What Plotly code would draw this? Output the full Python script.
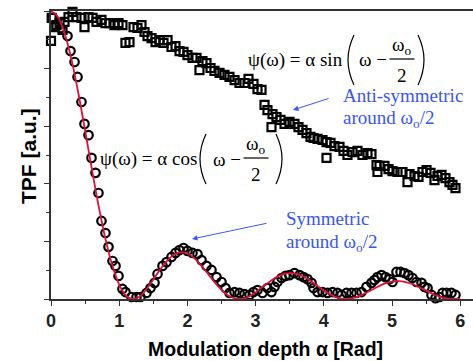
import plotly.graph_objects as go

# ---------------- data ----------------
sym_alpha = [0.022, 0.095, 0.139, 0.242, 0.286, 0.345, 0.389, 0.447, 0.491, 0.550, 0.594, 0.652, 0.696,
             0.740, 0.799, 0.843, 0.902, 0.946, 0.990, 1.048, 1.092, 1.180, 1.254, 1.312, 1.400, 1.459,
             1.518, 1.562, 1.635, 1.694, 1.767, 1.826, 1.884, 1.943, 2.001, 2.075, 2.148, 2.207, 2.280,
             2.353, 2.427, 2.500, 2.559, 2.617, 2.691, 2.764, 2.837, 2.911, 2.969, 3.028, 3.101, 3.174,
             3.233, 3.277, 3.321, 3.380, 3.438, 3.497, 3.570, 3.644, 3.703, 3.761, 3.820, 3.849, 3.908,
             3.981, 4.054, 4.128, 4.201, 4.260, 4.333, 4.406, 4.479, 4.553, 4.626, 4.699, 4.743, 4.787,
             4.846, 4.905, 4.963, 5.007, 5.066, 5.125, 5.183, 5.242, 5.301, 5.359, 5.433, 5.477, 5.521,
             5.579, 5.638, 5.697, 5.741, 5.799, 5.872, 5.931]
sym_tpf = [0.976, 1.003, 0.941, 0.913, 0.861, 0.823, 0.771, 0.684, 0.608, 0.569, 0.490, 0.438, 0.368,
           0.271, 0.229, 0.181, 0.132, 0.115, 0.080, 0.035, 0.024, 0.007, 0.007, 0.007, 0.021, 0.038,
           0.056, 0.087, 0.115, 0.128, 0.146, 0.160, 0.170, 0.177, 0.167, 0.160, 0.156, 0.135, 0.115,
           0.101, 0.076, 0.059, 0.038, 0.021, 0.024, 0.021, 0.017, 0.014, 0.024, 0.031, 0.021, 0.038,
           0.024, 0.042, 0.059, 0.073, 0.080, 0.083, 0.090, 0.083, 0.076, 0.069, 0.056, 0.038, 0.024,
           0.024, 0.021, 0.024, 0.021, 0.014, 0.021, 0.021, 0.021, 0.024, 0.042, 0.056, 0.066, 0.076,
           0.083, 0.076, 0.069, 0.059, 0.094, 0.094, 0.090, 0.083, 0.073, 0.059, 0.056, 0.042, 0.038,
           0.014, 0.003, 0.007, 0.021, 0.021, 0.021, 0.014]

anti_alpha = [0.000, 0.010, 0.051, 0.081, 0.125, 0.169, 0.198, 0.257, 0.315, 0.374, 0.447, 0.491, 0.550,
              0.609, 0.667, 0.740, 0.799, 0.858, 0.931, 0.990, 1.048, 1.092, 1.151, 1.210, 1.268, 1.327,
              1.371, 1.415, 1.474, 1.533, 1.591, 1.650, 1.709, 1.767, 1.826, 1.884, 1.943, 2.001, 2.075,
              2.133, 2.177, 2.221, 2.280, 2.339, 2.397, 2.471, 2.544, 2.617, 2.691, 2.764, 2.837, 2.896,
              2.969, 3.028, 3.087, 3.131, 3.174, 3.248, 3.306, 3.233, 3.365, 3.424, 3.497, 3.570, 3.629,
              3.688, 3.746, 3.805, 3.849, 3.908, 3.981, 4.040, 4.098, 4.157, 4.230, 4.289, 4.347, 4.040,
              4.421, 4.494, 4.567, 4.641, 4.699, 4.773, 4.817, 4.787, 4.890, 4.949, 5.007, 5.081, 5.154,
              5.227, 5.257, 5.330, 5.389, 5.447, 5.506, 5.565, 5.623, 5.667, 5.726, 5.784, 5.843, 5.887,
              5.931]
anti_tpf = [0.896, 0.976, 0.944, 0.951, 0.958, 0.934, 0.962, 0.979, 0.997, 0.979, 0.976, 0.944, 0.979,
            0.976, 0.962, 0.969, 0.958, 0.958, 0.951, 0.958, 0.951, 0.889, 0.892, 0.944, 0.941, 0.951,
            0.927, 0.913, 0.906, 0.892, 0.899, 0.889, 0.899, 0.875, 0.878, 0.861, 0.858, 0.847, 0.837,
            0.837, 0.795, 0.826, 0.819, 0.802, 0.792, 0.785, 0.778, 0.771, 0.760, 0.750, 0.750, 0.764,
            0.747, 0.729, 0.726, 0.674, 0.656, 0.642, 0.632, 0.597, 0.622, 0.608, 0.615, 0.608, 0.597,
            0.587, 0.576, 0.563, 0.559, 0.556, 0.552, 0.545, 0.542, 0.531, 0.528, 0.514, 0.500, 0.490,
            0.510, 0.514, 0.500, 0.507, 0.503, 0.465, 0.462, 0.441, 0.462, 0.451, 0.444, 0.441, 0.441,
            0.406, 0.434, 0.427, 0.424, 0.441, 0.448, 0.438, 0.413, 0.427, 0.431, 0.420, 0.406, 0.396,
            0.385]

fit_alpha = [0.0, 0.1, 0.2, 0.3, 0.4, 0.5, 0.6, 0.7, 0.8, 0.9, 1.0, 1.1, 1.2, 1.3, 1.4, 1.5, 1.6, 1.7,
             1.8, 1.9, 2.0, 2.1, 2.2, 2.3, 2.4, 2.5, 2.6, 2.7, 2.8, 2.9, 3.0, 3.1, 3.2, 3.3, 3.4, 3.5,
             3.6, 3.7, 3.8, 3.9, 4.0, 4.1, 4.2, 4.3, 4.4, 4.5, 4.6, 4.7, 4.8, 4.9, 5.0, 5.1, 5.2, 5.3,
             5.4, 5.5, 5.6, 5.7, 5.8, 5.9, 6.0]
fit_tpf = [1.000, 0.980, 0.922, 0.832, 0.716, 0.585, 0.450, 0.321, 0.207, 0.116, 0.050, 0.012, 0.000,
           0.009, 0.034, 0.068, 0.102, 0.132, 0.154, 0.162, 0.158, 0.142, 0.117, 0.088, 0.058, 0.032,
           0.012, 0.002, 0.001, 0.008, 0.023, 0.042, 0.059, 0.075, 0.086, 0.090, 0.087, 0.078, 0.064,
           0.046, 0.030, 0.015, 0.005, 0.000, 0.002, 0.008, 0.019, 0.031, 0.044, 0.054, 0.060, 0.062,
           0.059, 0.052, 0.041, 0.029, 0.018, 0.008, 0.002, 0.000, 0.002]

x_ticks = [0, 1, 2, 3, 4, 5, 6]
x_tick_labels = ["0", "1", "2", "3", "4", "5", "6"]

# ---------------- layout helpers ----------------
W, H = 473, 361
L, R, T, B = 51, 0, 11, 62
PW, PH = W - L - R, H - T - B


def px(x):
    return (x - L) / PW


def py(y):
    return (T + PH - y) / PH


BLUE = "#3a56f0"
RED = "#e0103c"
SERIF = "Liberation Serif"
SANS = "Liberation Sans"

fig = go.Figure()
fig.add_trace(go.Scatter(x=sym_alpha, y=sym_tpf, mode="markers", cliponaxis=False,
                         marker=dict(symbol="circle-open", size=8.5, color="black",
                                     line=dict(width=2.2, color="black")), showlegend=False))
fig.add_trace(go.Scatter(x=anti_alpha, y=anti_tpf, mode="markers", cliponaxis=False,
                         marker=dict(symbol="square-open", size=8, color="black",
                                     line=dict(width=2.2, color="black")), showlegend=False))
fig.add_trace(go.Scatter(x=fit_alpha, y=fit_tpf, mode="lines", line=dict(color=RED, width=1.8, shape="spline"),
                         cliponaxis=False, showlegend=False))

ann = []
shapes = []


def text(x, y, s, size=19, color="black", family=SERIF, xanchor="center", weight="normal", angle=0):
    ann.append(dict(xref="paper", yref="paper", x=px(x), y=py(y), text=s, showarrow=False,
                    xanchor=xanchor, yanchor="middle", textangle=angle,
                    font=dict(family=family, size=size, color=color, weight=weight)))


def paren(x_end, x_mid, y0, y1):
    ym = (y0 + y1) / 2
    shapes.append(dict(type="path", xref="paper", yref="paper",
                       path=f"M {px(x_end)},{py(y0)} Q {px(x_mid)},{py(ym)} {px(x_end)},{py(y1)}",
                       line=dict(color="black", width=1.2)))


def formula(x_lhs, lhs, y_c, x_lp, x_w, x_fr, x_rp):
    text(x_lhs, y_c, lhs)
    paren(x_lp + 5, x_lp - 7, y_c - 25, y_c + 25)
    text(x_w, y_c, "ω −")
    text(x_fr, y_c - 14, "ω<sub>o</sub>")
    shapes.append(dict(type="line", xref="paper", yref="paper", x0=px(x_fr - 12.5), x1=px(x_fr + 12.5),
                       y0=py(y_c - 1), y1=py(y_c - 1), line=dict(color="black", width=1.2)))
    text(x_fr, y_c + 15, "2")
    paren(x_rp - 5, x_rp + 7, y_c - 25, y_c + 25)


formula(295, "ψ(ω) = α sin", 60, 349, 373, 402, 423)
formula(148, "ψ(ω) = α cos", 159, 201, 227, 256, 281)

text(341, 96, "Anti-symmetric", size=19, color=BLUE, xanchor="left")
text(341, 119, "around ω<sub>o</sub>/2", size=19, color=BLUE, xanchor="left")
text(284, 218, "Symmetric", size=19, color=BLUE, xanchor="left")
text(284, 243, "around ω<sub>o</sub>/2", size=19, color=BLUE, xanchor="left")

for hx, hy, tx, ty in [(293, 110, 330, 98), (192, 239, 268, 223)]:
    ann.append(dict(xref="paper", yref="paper", x=px(hx), y=py(hy), ax=tx - hx, ay=ty - hy, text="",
                    showarrow=True, arrowhead=2, arrowsize=1.1, arrowwidth=1, arrowcolor=BLUE))

text(265, 349, "Modulation depth α [Rad]", size=19.5, family=SANS, weight="bold")
text(28, 156, "TPF [a.u.]", size=21, family=SANS, weight="bold", angle=-90)

fig.update_layout(
    width=W, height=H, margin=dict(l=L, r=R, t=T, b=B),
    paper_bgcolor="white", plot_bgcolor="white",
    annotations=ann, shapes=shapes,
    xaxis=dict(range=[0, PW / 68.2], showgrid=False, zeroline=False, showline=True, linecolor="#333",
               linewidth=1.5, mirror=True, ticks="outside", ticklen=5, tickwidth=1.2, tickcolor="#333",
               tickvals=x_ticks, ticktext=x_tick_labels,
               tickfont=dict(family=SANS, size=18, color="#222", weight="bold"),
               minor=dict(dtick=0.5, ticks="outside", ticklen=3, tickcolor="#333", tickwidth=1)),
    yaxis=dict(range=[0, 1.0], showgrid=False, zeroline=False, showline=True, linecolor="#333",
               linewidth=1.5, ticks="outside", ticklen=5, tickwidth=1.2, tickcolor="#333",
               dtick=0.2, showticklabels=False,
               minor=dict(dtick=0.1, ticks="outside", ticklen=3, tickcolor="#333", tickwidth=1)),
)

fig.write_html("out.html")
